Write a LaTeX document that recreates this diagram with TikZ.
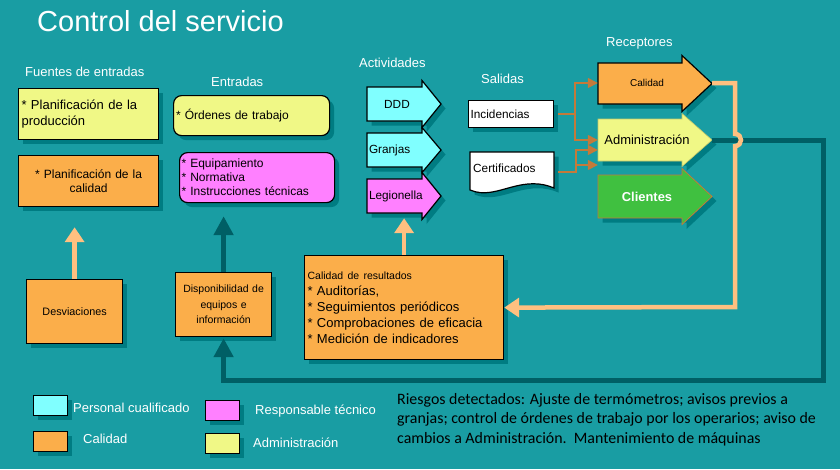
\documentclass[tikz,border=0pt]{standalone}
\usepackage{fontspec}
\setmainfont{Liberation Sans}
\newfontfamily\calib{Carlito}
\usetikzlibrary{arrows.meta,shadows}
\definecolor{bgc}{RGB}{25,157,163}
\definecolor{shadowc}{RGB}{0,124,130}
\definecolor{darkc}{RGB}{0,95,101}
\definecolor{lorange}{RGB}{255,192,128}
\definecolor{orangec}{RGB}{251,174,74}
\definecolor{yelc}{RGB}{240,248,134}
\definecolor{cyanc}{RGB}{128,255,255}
\definecolor{magc}{RGB}{255,128,255}
\definecolor{greenc}{RGB}{64,192,64}
\definecolor{brownc}{RGB}{196,122,58}
\tikzset{
 heading/.style={text=white, font=\fontsize{13}{15}\selectfont, inner sep=0pt, anchor=west},
 legtext/.style={text=white, font=\fontsize{13}{15}\selectfont, inner sep=0pt, anchor=west},
 sbox/.style={draw=black, line width=1.2pt, inner sep=2pt, anchor=north west,
   drop shadow={shadow xshift=4.5pt, shadow yshift=-4.5pt, fill=shadowc, opacity=1}},
 rbox/.style={sbox, rounded corners=8pt},
 holder/.style={inner sep=0pt, minimum width=55pt, minimum height=34pt, text width=51pt, font=\fontsize{11.8}{14}\selectfont},
 recholder/.style={inner sep=0pt, minimum width=98pt, minimum height=41pt, align=center},
 darkarrow/.style={draw=darkc, line width=5pt, -{Triangle[width=19pt,length=19pt]}},
 lightarrow/.style={draw=lorange, line width=4.5pt, -{Triangle[width=19pt,length=15pt]}},
 brownarrow/.style={draw=brownc, line width=1.5pt, -{Triangle[width=10pt,length=10pt]}},
}
% #1 style, #2 x0, #3 x head, #4 x tip, #5 y top, #6 y bottom, #7 head extension
\newcommand\ArrowShape[7]{%
 \fill[shadowc,shift={(4.5,4.5)}] (#2,#5) -- (#3,#5) -- (#3,#5-#7) -- (#4,{(#5+#6)/2}) -- (#3,#6+#7) -- (#3,#6) -- (#2,#6) -- cycle;
 \path[#1] (#2,#5) -- (#3,#5) -- (#3,#5-#7) -- (#4,{(#5+#6)/2}) -- (#3,#6+#7) -- (#3,#6) -- (#2,#6) -- cycle;}
\begin{document}
\begin{tikzpicture}[x=1pt,y=-1pt]
\fill[bgc] (0,0) rectangle (840,469);
\useasboundingbox (0,0) rectangle (840,469);

% title and headings
\node[text=white, font=\fontsize{29}{33}\selectfont, inner sep=0pt, anchor=base west] (title) at (37,31) {Control del servicio};
\node[heading] (hfuentes) at (25,72) {Fuentes de entradas};
\node[heading] (hentradas) at (211,82) {Entradas};
\node[heading] (hact) at (359,63) {Actividades};
\node[heading] (hsal) at (481,79) {Salidas};
\node[heading] (hrec) at (606,43) {Receptores};

% sources
\node[sbox, fill=yelc, minimum width=140pt, minimum height=51pt, text width=134pt, inner xsep=3pt, align=left,
  font=\fontsize{13}{16}\selectfont] (planprod) at (18,88) {* Planificación de la\\producción};
\node[sbox, fill=orangec, minimum width=140pt, minimum height=51pt, text width=134pt, inner xsep=3pt, align=center,
  font=\fontsize{12}{14.3}\selectfont] (plancal) at (18,155) {* Planificación de la\\calidad};

% inputs
\node[rbox, fill=yelc, minimum width=156pt, minimum height=40pt, text width=151pt, inner xsep=2.5pt, align=left,
  font=\fontsize{12}{14}\selectfont] (ordenes) at (173,95) {* Órdenes de trabajo};
\node[rbox, fill=magc, minimum width=155pt, minimum height=50pt, text width=151pt, inner xsep=2pt, align=left,
  font=\fontsize{12}{14}\selectfont] (equip) at (179,152) {* Equipamiento\\{}* Normativa\\{}* Instrucciones técnicas};

% lower boxes
\node[sbox, fill=orangec, minimum width=96pt, minimum height=64pt, text width=92pt, align=center,
  font=\fontsize{10.8}{13}\selectfont] (desv) at (26,279) {Desviaciones};
\node[sbox, fill=orangec, minimum width=96pt, minimum height=64pt, text width=92pt, align=center,
  font=\fontsize{10.5}{15.5}\selectfont] (disp) at (175,272) {Disponibilidad de\\equipos e\\información};
\node[sbox, fill=orangec, minimum width=199pt, minimum height=104pt, text width=193pt, inner xsep=3pt, align=left,
  font=\fontsize{13}{16}\selectfont] (calres) at (304,255)
  {{\fontsize{10.5}{12}\selectfont Calidad de resultados}\\{}* Auditorías,\\{}* Seguimientos periódicos\\{}* Comprobaciones de eficacia\\{}* Medición de indicadores};

% activities
\ArrowShape{draw=black, line width=1.2pt, fill=cyanc}{367}{422}{441}{87}{121}{6.5}
\node[holder, align=center] (ddd) at (394.5,104) {\hspace*{5pt}DDD};
\ArrowShape{draw=black, line width=1.2pt, fill=cyanc}{367}{422}{441}{133}{167}{5.5}
\node[holder, align=left] (granjas) at (394.5,150) {Granjas};
\ArrowShape{draw=black, line width=1.2pt, fill=magc}{367}{422}{441}{179}{213}{6.5}
\node[holder, align=left] (leg) at (394.5,196) {Legionella};

% outputs
\node[sbox, fill=white, minimum width=85pt, minimum height=27pt, text width=81pt, align=left,
  font=\fontsize{11.8}{14}\selectfont] (inc) at (468,100) {Incidencias};
\fill[shadowc, shift={(4.5,4.5)}] (470,152) -- (554,152) -- (554,188) .. controls (540,182) and (527,183) .. (512,187) .. controls (497,191) and (484,196) .. (470,190) -- cycle;
\path[draw=black, line width=1.2pt, fill=white] (470,152) -- (554,152) -- (554,188) .. controls (540,182) and (527,183) .. (512,187) .. controls (497,191) and (484,196) .. (470,190) -- cycle;
\node[inner sep=0pt, minimum width=84pt, minimum height=40pt] (cert) at (512,172) {};
\node[inner sep=0pt, anchor=west, font=\fontsize{11.8}{14}\selectfont] (certtxt) at (473,168) {Certificados};

% receivers
\ArrowShape{draw=black, line width=1.2pt, fill=orangec}{598}{682}{712}{63}{104}{7.5}
\node[recholder, font=\fontsize{10}{12}\selectfont] (calq) at (647,83) {Calidad};
\coordinate (caltip) at (712,83);
\ArrowShape{draw=yelc!80!black, line width=0.6pt, fill=yelc}{598}{682}{712}{119}{161}{5.5}
\node[recholder, font=\fontsize{13}{15}\selectfont] (adm) at (647,140) {Administración};
\coordinate (admtip) at (712,140);
\ArrowShape{draw=brownc, line width=0.8pt, fill=greenc}{598}{682}{712}{175}{218}{6.5}
\node[recholder, text=white, font=\bfseries\fontsize{12.9}{15}\selectfont] (cli) at (647,197) {Clientes};

% brown connectors
\draw[brownarrow] ([xshift=4pt]inc.east) -- ++(17,0) |- (calq.west);
\draw[brownarrow] ([xshift=4pt]inc.east) -- ++(17,0) |- (adm.west);
\draw[brownarrow] ([xshift=4pt]cert.east) -- ++(18,0) |- ([yshift=-10pt]adm.west);
\draw[brownarrow] ([xshift=4pt]cert.east) -- ++(18,0) |- ([yshift=-25pt]adm.west);

% up arrows
\draw[lightarrow, shorten >=20pt] (desv.north) -- (desv.north |- plancal.south);
\draw[darkarrow, shorten >=13pt] (disp.north) -- (disp.north |- equip.south);
\draw[lightarrow, shorten >=5pt] (calres.north) -- (calres.north |- leg.south);

% dark feedback loop
\coordinate (rt) at (823,140);
\coordinate (rb) at (823,380);
\draw[darkarrow, line join=miter, shorten >=1pt] (admtip) -- (rt) -- (rb) -| (disp.south);

% light orange loop with hop
\coordinate (lt) at (735,83);
\coordinate (lb) at (735,307);
\draw[lightarrow, line join=miter] (caltip) -- (lt) -- (735,134) .. controls (743,134) and (743,146) .. (735,146) -- (lb) -- (calres.east);

% legend
\node[sbox, fill=cyanc, minimum width=34pt, minimum height=20pt, inner sep=0pt] (lgcyan) at (33,395) {};
\node[legtext] (lgcyantxt) at (73,408) {Personal cualificado};
\node[sbox, fill=orangec, minimum width=34pt, minimum height=20pt, inner sep=0pt] (lgorange) at (33,431) {};
\node[legtext] (lgorangetxt) at (83,439) {Calidad};
\node[sbox, fill=magc, minimum width=34pt, minimum height=20pt, inner sep=0pt] (lgmag) at (205,400) {};
\node[legtext] (lgmagtxt) at (255,411) {Responsable técnico};
\node[sbox, fill=yelc, minimum width=34pt, minimum height=20pt, inner sep=0pt] (lgyel) at (205,433) {};
\node[legtext] (lgyeltxt) at (253,443) {Administración};

% risks
\node[anchor=north west, inner sep=0pt, align=left, font=\calib\fontsize{15.9}{19.5}\selectfont] (riesgos) at (397,393)
 {Riesgos detectados: Ajuste de termómetros; avisos previos a\\granjas; control de órdenes de trabajo por los operarios; aviso de\\cambios a Administración.\ \ Mantenimiento de máquinas};
\end{tikzpicture}
\end{document}
